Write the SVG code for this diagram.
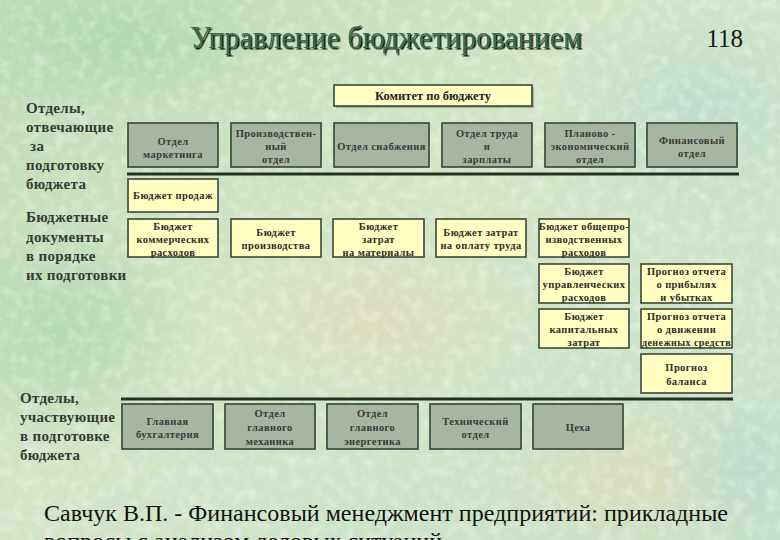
<svg xmlns="http://www.w3.org/2000/svg" width="780" height="540" viewBox="0 0 780 540">
<defs>
<linearGradient id="bg" x1="0" y1="0" x2="1" y2="1">
<stop offset="0" stop-color="#bcdcb6"/>
<stop offset="0.45" stop-color="#d4e4c6"/>
<stop offset="1" stop-color="#c6e2ca"/>
</linearGradient>
<radialGradient id="b1" cx="0.5" cy="0.5" r="0.5"><stop offset="0" stop-color="#e2dab6" stop-opacity="0.7"/><stop offset="1" stop-color="#e2dab6" stop-opacity="0"/></radialGradient>
<radialGradient id="b2" cx="0.5" cy="0.5" r="0.5"><stop offset="0" stop-color="#a4d6a8" stop-opacity="0.7"/><stop offset="1" stop-color="#a4d6a8" stop-opacity="0"/></radialGradient>
<radialGradient id="b3" cx="0.5" cy="0.5" r="0.5"><stop offset="0" stop-color="#b0dad4" stop-opacity="0.6"/><stop offset="1" stop-color="#b0dad4" stop-opacity="0"/></radialGradient>
<filter id="tex" x="0" y="0" width="1" height="1">
<feTurbulence type="fractalNoise" baseFrequency="0.09" numOctaves="2" seed="3" result="n"/>
<feColorMatrix in="n" type="matrix" values="0 0 0 0 1  0 0 0 0 1  0 0 0 0 1  0 0 0 -2.2 1.25" result="w"/>
<feComposite in="w" in2="SourceGraphic" operator="in"/>
</filter>
<filter id="tsh" x="-5%" y="-20%" width="110%" height="140%">
<feDropShadow dx="1.5" dy="1.5" stdDeviation="0.3" flood-color="#0a140c" flood-opacity="1"/>
</filter>
<style>
.g{fill:#a8b5a3;stroke:#34443a;stroke-width:1.6}
.y{fill:#ffffc2;stroke:#3c463c;stroke-width:1.6}
.sh{fill:#4a5a4a;opacity:0.35}
.bt{font-family:"Liberation Serif",serif;font-weight:bold;font-size:10.5px;letter-spacing:0.4px;fill:#3a3a3a;text-anchor:middle}
.yt{font-family:"Liberation Serif",serif;font-weight:bold;font-size:10.5px;letter-spacing:0.4px;fill:#2e2e2a;text-anchor:middle}
.lab{font-family:"Liberation Serif",serif;font-weight:bold;font-size:15px;letter-spacing:0.3px;fill:#363a36}
.rule{stroke:#243024;stroke-width:3}
</style>
</defs>
<rect width="780" height="540" fill="url(#bg)"/>
<ellipse cx="60" cy="330" rx="140" ry="120" fill="url(#b2)"/>
<ellipse cx="380" cy="320" rx="170" ry="90" fill="url(#b1)"/>
<ellipse cx="700" cy="110" rx="160" ry="120" fill="url(#b3)"/>
<ellipse cx="640" cy="480" rx="170" ry="90" fill="url(#b1)"/>
<ellipse cx="750" cy="470" rx="90" ry="90" fill="url(#b3)"/>
<ellipse cx="120" cy="40" rx="160" ry="70" fill="url(#b2)"/>
<rect width="780" height="540" fill="#000" opacity="0.35" filter="url(#tex)"/>

<text x="386" y="48" text-anchor="middle" font-family="Liberation Serif, serif" font-size="31" fill="#3a6a46" textLength="392" lengthAdjust="spacingAndGlyphs" filter="url(#tsh)">Управление бюджетированием</text>
<text x="743" y="47" text-anchor="end" font-family="Liberation Serif, serif" font-size="25" fill="#1a1a1a">118</text>

<g id="labels">
<text class="lab"><tspan x="26" y="113">Отделы,</tspan><tspan x="26" y="132">отвечающие</tspan><tspan x="26" y="151"> за</tspan><tspan x="26" y="170">подготовку</tspan><tspan x="26" y="189">бюджета</tspan></text>
<text class="lab"><tspan x="26" y="222">Бюджетные</tspan><tspan x="26" y="242">документы</tspan><tspan x="26" y="261">в порядке</tspan><tspan x="26" y="280">их подготовки</tspan></text>
<text class="lab"><tspan x="20" y="403">Отделы,</tspan><tspan x="20" y="422">участвующие</tspan><tspan x="20" y="441">в подготовке</tspan><tspan x="20" y="460">бюджета</tspan></text>
</g>

<g id="connectors">
<line class="rule" x1="127" y1="174" x2="739" y2="174"/>
<line class="rule" x1="121" y1="399" x2="733" y2="399"/>
</g>

<g id="committee">
<rect class="sh" x="336" y="87" width="198" height="21"/>
<rect class="y" x="334" y="85" width="198" height="21"/>
<text x="433" y="100" text-anchor="middle" font-family="Liberation Serif, serif" font-weight="bold" font-size="12.5" fill="#222">Комитет по бюджету</text>
</g>

<g id="d-marketing"><rect class="g" x="128" y="123" width="90" height="44"/><text class="bt"><tspan x="173" y="144.5">Отдел</tspan><tspan x="173" y="157.5">маркетинга</tspan></text></g>
<g id="d-production"><rect class="g" x="231" y="123" width="90" height="44"/><text class="bt"><tspan x="276" y="137">Производствен-</tspan><tspan x="276" y="150">ный</tspan><tspan x="276" y="163">отдел</tspan></text></g>
<g id="d-supply"><rect class="g" x="334" y="123" width="95" height="44"/><text class="bt"><tspan x="381.5" y="150">Отдел снабжения</tspan></text></g>
<g id="d-labor"><rect class="g" x="442" y="123" width="90" height="44"/><text class="bt"><tspan x="487" y="137">Отдел труда</tspan><tspan x="487" y="150">и</tspan><tspan x="487" y="163">зарплаты</tspan></text></g>
<g id="d-planning"><rect class="g" x="545" y="123" width="90" height="44"/><text class="bt"><tspan x="590" y="137">Планово -</tspan><tspan x="590" y="150">экономический</tspan><tspan x="590" y="163">отдел</tspan></text></g>
<g id="d-finance"><rect class="g" x="647" y="123" width="90" height="44"/><text class="bt"><tspan x="692" y="144">Финансовый</tspan><tspan x="692" y="157">отдел</tspan></text></g>

<g id="b-sales"><rect class="y" x="128" y="179" width="90" height="33"/><text class="yt"><tspan x="173" y="199">Бюджет продаж</tspan></text></g>
<g id="b-commercial"><rect class="y" x="128" y="219" width="90" height="38"/><text class="yt"><tspan x="173" y="230">Бюджет</tspan><tspan x="173" y="243">коммерческих</tspan><tspan x="173" y="256">расходов</tspan></text></g>
<g id="b-production"><rect class="y" x="231" y="219" width="90" height="38"/><text class="yt"><tspan x="276" y="236">Бюджет</tspan><tspan x="276" y="249">производства</tspan></text></g>
<g id="b-materials"><rect class="y" x="333" y="219" width="91" height="38"/><text class="yt"><tspan x="378.5" y="230">Бюджет</tspan><tspan x="378.5" y="243">затрат</tspan><tspan x="378.5" y="256">на материалы</tspan></text></g>
<g id="b-labor"><rect class="y" x="436" y="219" width="90" height="38"/><text class="yt"><tspan x="481" y="236">Бюджет затрат</tspan><tspan x="481" y="249">на оплату труда</tspan></text></g>
<g id="b-overhead"><rect class="y" x="539" y="219" width="90" height="38"/><text class="yt"><tspan x="584" y="230">Бюджет общепро-</tspan><tspan x="584" y="243">изводственных</tspan><tspan x="584" y="256">расходов</tspan></text></g>
<g id="b-admin"><rect class="y" x="539" y="264" width="90" height="39"/><text class="yt"><tspan x="584" y="275">Бюджет</tspan><tspan x="584" y="288">управленческих</tspan><tspan x="584" y="300.5">расходов</tspan></text></g>
<g id="f-pl"><rect class="y" x="641" y="264" width="91" height="39"/><text class="yt"><tspan x="686.5" y="275">Прогноз отчета</tspan><tspan x="686.5" y="288">о прибылях</tspan><tspan x="686.5" y="300.5">и убытках</tspan></text></g>
<g id="b-capital"><rect class="y" x="539" y="309" width="90" height="39"/><text class="yt"><tspan x="584" y="320">Бюджет</tspan><tspan x="584" y="333">капитальных</tspan><tspan x="584" y="346">затрат</tspan></text></g>
<g id="f-cash"><rect class="y" x="641" y="309" width="91" height="39"/><text class="yt"><tspan x="686.5" y="320">Прогноз отчета</tspan><tspan x="686.5" y="333">о движении</tspan><tspan x="686.5" y="346" textLength="89" lengthAdjust="spacingAndGlyphs">денежных средств</tspan></text></g>
<g id="f-balance"><rect class="y" x="641" y="354" width="91" height="39"/><text class="yt"><tspan x="686.5" y="371">Прогноз</tspan><tspan x="686.5" y="385">баланса</tspan></text></g>

<g id="p-accounting"><rect class="g" x="122" y="404" width="91" height="45"/><text class="bt"><tspan x="167.5" y="425">Главная</tspan><tspan x="167.5" y="438">бухгалтерия</tspan></text></g>
<g id="p-mechanic"><rect class="g" x="225" y="404" width="90" height="45"/><text class="bt"><tspan x="270" y="417">Отдел</tspan><tspan x="270" y="431">главного</tspan><tspan x="270" y="445">механика</tspan></text></g>
<g id="p-energy"><rect class="g" x="327" y="404" width="91" height="45"/><text class="bt"><tspan x="372.5" y="417">Отдел</tspan><tspan x="372.5" y="431">главного</tspan><tspan x="372.5" y="445">энергетика</tspan></text></g>
<g id="p-tech"><rect class="g" x="430" y="404" width="91" height="45"/><text class="bt"><tspan x="475.5" y="425">Технический</tspan><tspan x="475.5" y="438">отдел</tspan></text></g>
<g id="p-shops"><rect class="g" x="533" y="404" width="90" height="45"/><text class="bt"><tspan x="578" y="431">Цеха</tspan></text></g>

<text x="44" y="521" font-family="Liberation Serif, serif" font-size="24" fill="#111" textLength="684" lengthAdjust="spacingAndGlyphs">Савчук В.П. - Финансовый менеджмент предприятий: прикладные</text>
<text x="44" y="549" font-family="Liberation Serif, serif" font-size="24" fill="#111" textLength="398" lengthAdjust="spacingAndGlyphs">вопросы с анализом деловых ситуаций</text>
</svg>
